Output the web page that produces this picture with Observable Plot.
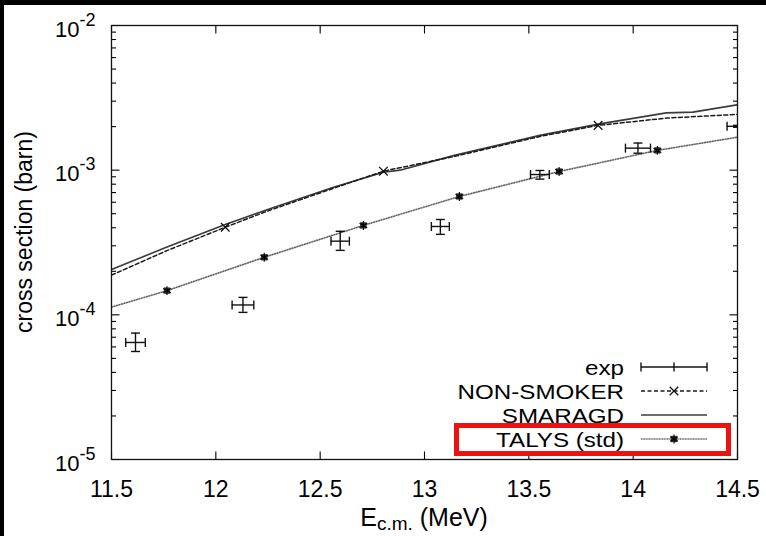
<!DOCTYPE html>
<html><head><meta charset="utf-8">
<script src="https://cdn.jsdelivr.net/npm/d3@7"></script>
<script src="https://cdn.jsdelivr.net/npm/@observablehq/plot@0.6"></script>
<style>
body{margin:0;background:#fff;}
#wrap{position:relative;width:766px;height:536px;overflow:hidden;background:#fff;}
#chart{position:absolute;left:0;top:0;}
.bar{position:absolute;background:#000;}
</style></head><body>
<div id="wrap"><div id="chart"></div>
<div class="bar" style="left:0;top:0;width:766px;height:5px"></div>
<div class="bar" style="left:0;top:0;width:4px;height:536px"></div>
</div>
<script>
// ---- data ----
const xTickVals = [11.5, 12, 12.5, 13, 13.5, 14, 14.5];
const yMajorVals = [1e-5, 1e-4, 1e-3, 1e-2];
const yMinorMult = [2, 3, 4, 5, 6, 7, 8, 9];

const expE      = [11.615, 12.13, 12.596, 13.076, 13.553, 14.023, 14.50];
const expSigma  = [6.44e-5, 1.17e-4, 3.23e-4, 4.08e-4, 9.33e-4, 1.42e-3, 2.01e-3];
const expDE     = [0.047, 0.052, 0.044, 0.043, 0.045, 0.060, 0.050];
const expSigLo  = [5.58e-5, 1.04e-4, 2.79e-4, 3.60e-4, 8.67e-4, 1.31e-3, 1.98e-3];
const expSigHi  = [7.48e-5, 1.32e-4, 3.78e-4, 4.56e-4, 9.95e-4, 1.54e-3, 2.04e-3];

const nonSmokerE     = [11.5, 11.766, 12.045, 12.245, 12.564, 12.803, 13.138, 13.553, 13.832, 14.159, 14.5];
const nonSmokerSigma = [1.88e-4, 2.78e-4, 4.03e-4, 5.20e-4, 7.5e-4, 9.84e-4, 1.24e-3, 1.71e-3, 2.04e-3, 2.29e-3, 2.43e-3];
const nonSmokerMarkE     = [12.045, 12.803, 13.832];
const nonSmokerMarkSigma = [4.03e-4, 9.84e-4, 2.04e-3];

const smaragdE     = [11.5, 11.766, 12.045, 12.245, 12.564, 12.803, 12.883, 13.138, 13.553, 13.840, 14.159, 14.286, 14.5];
const smaragdSigma = [2.06e-4, 2.94e-4, 4.21e-4, 5.32e-4, 7.62e-4, 9.68e-4, 1.0e-3, 1.26e-3, 1.74e-3, 2.09e-3, 2.49e-3, 2.52e-3, 2.83e-3];

const talysE     = [11.5, 11.766, 12.232, 12.707, 13.167, 13.645, 14.116, 14.5];
const talysSigma = [1.13e-4, 1.47e-4, 2.50e-4, 4.15e-4, 6.58e-4, 9.79e-4, 1.37e-3, 1.69e-3];
const talysMarkE     = [11.766, 12.232, 12.707, 13.167, 13.645, 14.116];
const talysMarkSigma = [1.47e-4, 2.50e-4, 4.15e-4, 6.58e-4, 9.79e-4, 1.37e-3];

const legendLabels = ["exp", "NON-SMOKER", "SMARAGD", "TALYS (std)"];
const xLabelMain = "E", xLabelSub = "c.m.", xLabelTail = " (MeV)";
const yLabel = "cross section (barn)";

// ---- build ----
const font = "'Liberation Sans', Arial, Helvetica, sans-serif";
const W = 766, H = 536, mL = 111, mR = 29, mT = 25, mB = 77;

const pts = (xs, ys) => xs.map((x, i) => ({x, y: ys[i]}));
const expData = expE.map((e, i) => ({e, s: expSigma[i], de: expDE[i], lo: expSigLo[i], hi: expSigHi[i]}));
const yMinorVals = [1e-5, 1e-4, 1e-3].flatMap(d => yMinorMult.map(m => d * m));

const seg = (dx, dy) => ({draw(ctx) { ctx.moveTo(0, 0); ctx.lineTo(dx, dy); }});
const capV = {draw(ctx) { ctx.moveTo(0, -4.5); ctx.lineTo(0, 4.5); }};
const capH = {draw(ctx) { ctx.moveTo(-4.5, 0); ctx.lineTo(4.5, 0); }};
const tk = {stroke: "#000", fill: "none", strokeWidth: 1.1};
const talysLine1 = {stroke: "#c4c4c4", strokeWidth: 2};
const talysLine2 = {stroke: "#555", strokeWidth: 1.2, strokeDasharray: "1,1.6"};

const plot = Plot.plot({
  width: W, height: H,
  marginLeft: mL, marginRight: mR, marginTop: mT, marginBottom: mB,
  style: {fontFamily: font, fontSize: "23px", color: "#000", background: "transparent"},
  x: {domain: [11.5, 14.5]},
  y: {type: "log", domain: [1e-5, 1e-2]},
  marks: [
    Plot.axisX({ticks: xTickVals, tickSize: 0, tickPadding: 21, tickFormat: d => String(d), label: null, fontSize: 23}),
    Plot.axisY({ticks: yMajorVals, tickSize: 0, tickPadding: 16, tickFormat: d => "10^" + Math.round(Math.log10(d)), label: null, fontSize: 22}),
    // tick marks (inward)
    Plot.dot(xTickVals, {x: d => d, frameAnchor: "bottom", symbol: seg(0, -8), ...tk}),
    Plot.dot(xTickVals, {x: d => d, frameAnchor: "top", symbol: seg(0, 8), ...tk}),
    Plot.dot(yMajorVals, {y: d => d, frameAnchor: "left", symbol: seg(8, 0), ...tk}),
    Plot.dot(yMajorVals, {y: d => d, frameAnchor: "right", symbol: seg(-8, 0), ...tk}),
    Plot.dot(yMinorVals, {y: d => d, frameAnchor: "left", symbol: seg(4.5, 0), ...tk}),
    Plot.dot(yMinorVals, {y: d => d, frameAnchor: "right", symbol: seg(-4.5, 0), ...tk}),
    // model curves
    Plot.line(pts(talysE, talysSigma), {x: "x", y: "y", ...talysLine1, clip: true}),
    Plot.line(pts(talysE, talysSigma), {x: "x", y: "y", ...talysLine2, clip: true}),
    Plot.line(pts(smaragdE, smaragdSigma), {x: "x", y: "y", stroke: "#3a3a3a", strokeWidth: 1.6, clip: true}),
    Plot.line(pts(nonSmokerE, nonSmokerSigma), {x: "x", y: "y", stroke: "#1a1a1a", strokeWidth: 1.5, strokeDasharray: "4,2.5", clip: true}),
    Plot.dot(pts(nonSmokerMarkE, nonSmokerMarkSigma), {x: "x", y: "y", symbol: "times", r: 4, stroke: "#111", strokeWidth: 1.3, fill: "none"}),
    Plot.dot(pts(talysMarkE, talysMarkSigma), {x: "x", y: "y", symbol: "square", r: 3.6, fill: "#333", stroke: "none"}),
    Plot.dot(pts(talysMarkE, talysMarkSigma), {x: "x", y: "y", symbol: "asterisk", r: 4.2, stroke: "#000", strokeWidth: 1.1, fill: "none"}),
    // experimental error bars
    Plot.ruleY(expData, {y: "s", x1: d => d.e - d.de, x2: d => d.e + d.de, stroke: "#111", strokeWidth: 1.4, clip: true}),
    Plot.ruleX(expData, {x: "e", y1: "lo", y2: "hi", stroke: "#111", strokeWidth: 1.4, clip: true}),
    Plot.dot(expData, {x: d => d.e - d.de, y: "s", symbol: capV, stroke: "#111", strokeWidth: 1.4, fill: "none", clip: true}),
    Plot.dot(expData, {x: d => d.e + d.de, y: "s", symbol: capV, stroke: "#111", strokeWidth: 1.4, fill: "none", clip: true}),
    Plot.dot(expData, {x: "e", y: "lo", symbol: capH, stroke: "#111", strokeWidth: 1.4, fill: "none", clip: true}),
    Plot.dot(expData, {x: "e", y: "hi", symbol: capH, stroke: "#111", strokeWidth: 1.4, fill: "none", clip: true}),
    Plot.frame({stroke: "#111", strokeWidth: 1.3})
  ]
});
document.getElementById("chart").appendChild(plot);

const svg = d3.select(plot);
// superscript y tick labels
svg.selectAll('g[aria-label="y-axis tick label"] text').each(function() {
  const t = d3.select(this);
  const txt = t.text();
  const exp = txt.split("^")[1];
  t.text("");
  t.attr("y", null).attr("dy", "0.5em");
  t.append("tspan").text("10");
  t.append("tspan").attr("dy", -11).attr("font-size", 18).text(exp);
});

// axis titles
const xt = svg.append("text").attr("x", 424).attr("y", 526).attr("text-anchor", "middle")
  .attr("font-family", font).attr("font-size", 25).attr("fill", "#000");
xt.append("tspan").text(xLabelMain);
xt.append("tspan").attr("dy", 4).attr("font-size", 19).text(xLabelSub);
xt.append("tspan").attr("dy", -4).text(xLabelTail);

svg.append("text").attr("transform", "translate(32,232) rotate(-90)").attr("text-anchor", "middle")
  .attr("font-family", font).attr("font-size", 23).attr("fill", "#000").text(yLabel);

// legend
const rowY = [367, 391, 415, 439];
const lg = svg.append("g").attr("font-family", font).attr("font-size", 21);
legendLabels.forEach((lab, i) => {
  const t = lg.append("text").attr("x", 624).attr("y", rowY[i]).attr("dy", "0.36em").attr("text-anchor", "end").attr("fill", "#000").text(lab);
  const w = t.node().getComputedTextLength();
  t.attr("textLength", w * 1.15).attr("lengthAdjust", "spacingAndGlyphs");
});
const x0 = 641, x1 = 707, xm = 674;
// exp
lg.append("line").attr("x1", x0).attr("x2", x1).attr("y1", rowY[0]).attr("y2", rowY[0]).attr("stroke", "#111").attr("stroke-width", 1.4);
[x0, xm, x1].forEach(x => lg.append("line").attr("x1", x).attr("x2", x).attr("y1", rowY[0] - 4.5).attr("y2", rowY[0] + 4.5).attr("stroke", "#111").attr("stroke-width", 1.4));
// non-smoker
lg.append("line").attr("x1", x0).attr("x2", x1).attr("y1", rowY[1]).attr("y2", rowY[1]).attr("stroke", "#1a1a1a").attr("stroke-width", 1.5).attr("stroke-dasharray", "4,2.5");
lg.append("path").attr("d", d3.symbol(d3.symbolTimes, Math.PI * 16)()).attr("transform", `translate(${xm},${rowY[1]})`).attr("stroke", "#111").attr("stroke-width", 1.3).attr("fill", "none");
// smaragd
lg.append("line").attr("x1", x0).attr("x2", x1).attr("y1", rowY[2]).attr("y2", rowY[2]).attr("stroke", "#3a3a3a").attr("stroke-width", 1.6);
// talys
lg.append("line").attr("x1", x0).attr("x2", x1).attr("y1", rowY[3]).attr("y2", rowY[3]).attr("stroke", talysLine1.stroke).attr("stroke-width", talysLine1.strokeWidth);
lg.append("line").attr("x1", x0).attr("x2", x1).attr("y1", rowY[3]).attr("y2", rowY[3]).attr("stroke", talysLine2.stroke).attr("stroke-width", talysLine2.strokeWidth).attr("stroke-dasharray", talysLine2.strokeDasharray);
lg.append("path").attr("d", d3.symbol(d3.symbolSquare, Math.PI * 3.6 * 3.6)()).attr("transform", `translate(${xm},${rowY[3]})`).attr("fill", "#333");
lg.append("path").attr("d", d3.symbol(d3.symbolAsterisk, Math.PI * 4.2 * 4.2)()).attr("transform", `translate(${xm},${rowY[3]})`).attr("stroke", "#000").attr("stroke-width", 1.1).attr("fill", "none");
// red highlight box
svg.append("rect").attr("x", 456.5).attr("y", 425.5).attr("width", 272).attr("height", 28)
  .attr("fill", "none").attr("stroke", "#ee1111").attr("stroke-width", 5);
</script>
</body></html>
